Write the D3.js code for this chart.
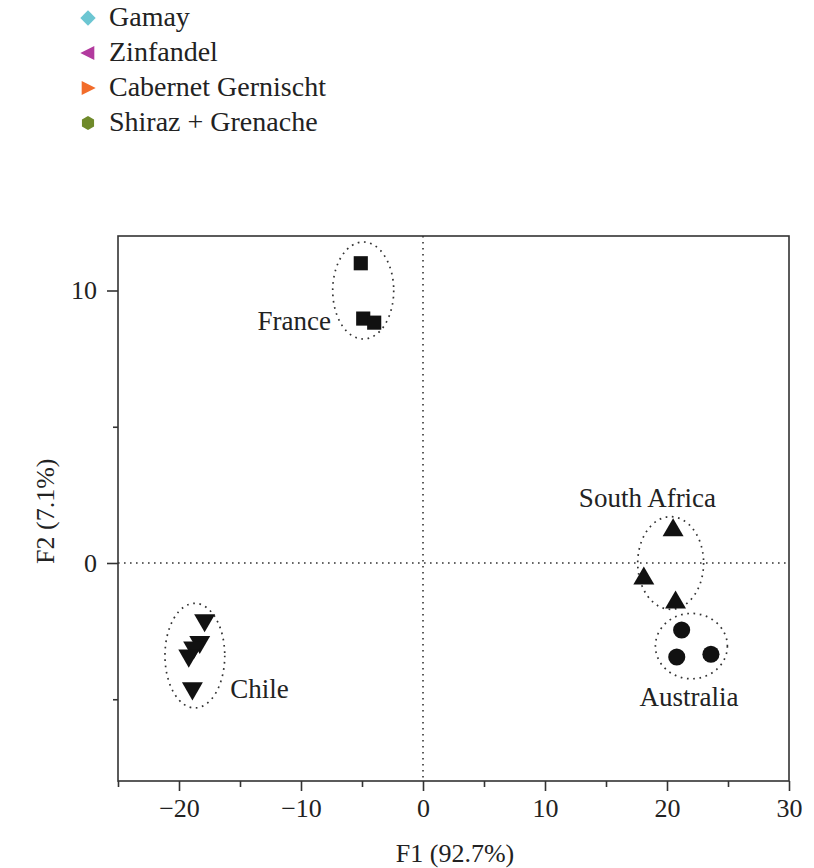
<!DOCTYPE html>
<html><head><meta charset="utf-8">
<script src="https://cdn.jsdelivr.net/npm/d3@7/dist/d3.min.js"></script>
<style>
body{margin:0;background:#fff;}
text{font-family:"Liberation Serif","DejaVu Serif",serif;fill:#222;}
</style></head>
<body><svg id="c" width="814" height="868"></svg>
<script>
// ---- data ----
const legendNames = ["Gamay","Zinfandel","Cabernet Gernischt","Shiraz + Grenache"];
const legendShapes = ["diamond","left","right","hexagon"];
const legendColors = ["#6cc6d2","#b23a9e","#f26c2a","#6f8a2a"];

const franceX = [-5.1, -4.9, -4.0];
const franceY = [11.0, 8.97, 8.82];
const southAfricaX = [20.5, 18.1, 20.7];
const southAfricaY = [1.2, -0.57, -1.45];
const australiaX = [21.2, 20.8, 23.6];
const australiaY = [-2.46, -3.45, -3.35];
const chileX = [-17.9, -18.3, -18.8, -19.2, -18.9];
const chileY = [-2.1, -2.9, -3.1, -3.4, -4.6];

const groupNames = ["France","South Africa","Australia","Chile"];
// ellipse centre and radii in data units
const ellipseCx = [-4.9, 20.3, 22.0, -18.7];
const ellipseCy = [10.0, 0.0, -3.05, -3.4];
const ellipseRx = [2.5, 2.7, 2.95, 2.45];
const ellipseRy = [1.78, 1.7, 1.2, 1.92];
const labelX = [-7.55, 18.4, 21.8, -15.8];
const labelY = [8.55, 2.05, -5.25, -4.95];
const labelAnchor = ["end","middle","middle","start"];

const xMajorTicks = [-20,-10,0,10,20,30];
const xMinorTicks = [-25,-15,-5,5,15,25];
const yMajorTicks = [0,10];
const yMinorTicks = [-5,5];
const xTitle = "F1 (92.7%)";
const yTitle = "F2 (7.1%)";

// ---- layout ----
const svg = d3.select("#c");
const L = 118, R = 789, T = 236, B = 781;
const x = d3.scaleLinear().domain([-25,30]).range([L,R]);
const y = d3.scaleLinear().domain([-8,12]).range([B,T]);
const FS = 26;
const fmt = d => d < 0 ? "\u2212" + Math.abs(d) : "" + d;

function legendPath(shape, s){
  if(shape==="left") return `M${-s*0.55},0L${s*0.45},${-s*0.5}L${s*0.45},${s*0.5}Z`;
  if(shape==="right") return `M${s*0.55},0L${-s*0.45},${-s*0.5}L${-s*0.45},${s*0.5}Z`;
  if(shape==="diamond") return `M0,${-s*0.55}L${s*0.55},0L0,${s*0.55}L${-s*0.55},0Z`;
  const pts = d3.range(6).map(i=>{const a=Math.PI/3*i+Math.PI/6;return [Math.cos(a)*s*0.5, Math.sin(a)*s*0.5];});
  return "M"+pts.join("L")+"Z";
}
const lg = svg.append("g");
legendNames.forEach((n,i)=>{
  const cy = 18 + i*35;
  lg.append("path").attr("d", legendPath(legendShapes[i], 14))
    .attr("transform",`translate(88,${cy})`).attr("fill",legendColors[i]);
  lg.append("text").attr("x",109).attr("y",cy+8).attr("font-size",28).text(n);
});

// zero lines
svg.append("line").attr("x1",x(0)).attr("x2",x(0)).attr("y1",T).attr("y2",B)
  .attr("stroke","#333").attr("stroke-width",1.6).attr("stroke-dasharray","1.6,4.4");
svg.append("line").attr("x1",L).attr("x2",R).attr("y1",y(0)).attr("y2",y(0))
  .attr("stroke","#333").attr("stroke-width",1.6).attr("stroke-dasharray","1.6,4.4");

// frame
svg.append("rect").attr("x",L).attr("y",T).attr("width",R-L).attr("height",B-T)
  .attr("fill","none").attr("stroke","#333").attr("stroke-width",1.6);

// axes
const xAxis = svg.append("g").attr("transform",`translate(0,${B})`);
xAxis.call(d3.axisBottom(x).tickValues(xMajorTicks).tickSize(10).tickPadding(8).tickFormat(fmt));
const xAxisMinor = svg.append("g").attr("transform",`translate(0,${B})`);
xAxisMinor.call(d3.axisBottom(x).tickValues(xMinorTicks).tickSize(6).tickFormat(""));
const yAxis = svg.append("g").attr("transform",`translate(${L},0)`);
yAxis.call(d3.axisLeft(y).tickValues(yMajorTicks).tickSize(11).tickPadding(10).tickFormat(fmt));
const yAxisMinor = svg.append("g").attr("transform",`translate(${L},0)`);
yAxisMinor.call(d3.axisLeft(y).tickValues(yMinorTicks).tickSize(5).tickFormat(""));
[xAxis,xAxisMinor,yAxis,yAxisMinor].forEach(g=>{
  g.select(".domain").remove();
  g.selectAll(".tick line").attr("stroke","#333").attr("stroke-width",1.6);
  g.selectAll("text").attr("font-size",FS).attr("font-family","Liberation Serif, serif").attr("fill","#222");
});

svg.append("text").attr("x",x(0)+32).attr("y",862).attr("text-anchor","middle")
  .attr("font-size",FS).text(xTitle);
svg.append("text").attr("transform",`translate(54,${y(1.9)}) rotate(-90)`)
  .attr("text-anchor","middle").attr("font-size",FS).text(yTitle);

// ellipses
groupNames.forEach((g,i)=>{
  svg.append("ellipse").attr("cx",x(ellipseCx[i])).attr("cy",y(ellipseCy[i]))
    .attr("rx",x(ellipseRx[i])-x(0)).attr("ry",y(0)-y(ellipseRy[i]))
    .attr("fill","none").attr("stroke","#333").attr("stroke-width",1.7)
    .attr("stroke-dasharray","1.7,4.6");
  svg.append("text").attr("x",x(labelX[i])).attr("y",y(labelY[i]))
    .attr("text-anchor",labelAnchor[i]).attr("font-size",27).text(g);
});

// points
const sq = d3.symbol().type(d3.symbolSquare).size(200);
const tri = d3.symbol().type(d3.symbolTriangle).size(190);
const circ = d3.symbol().type(d3.symbolCircle).size(230);
function plot(xs, ys, gen, rot){
  svg.append("g").selectAll("path").data(xs).join("path")
    .attr("d", gen())
    .attr("transform",(d,i)=>`translate(${x(d)},${y(ys[i])}) rotate(${rot})`)
    .attr("fill","#111");
}
plot(franceX, franceY, sq, 0);
plot(southAfricaX, southAfricaY, tri, 0);
plot(australiaX, australiaY, circ, 0);
plot(chileX, chileY, tri, 180);
</script></body></html>
